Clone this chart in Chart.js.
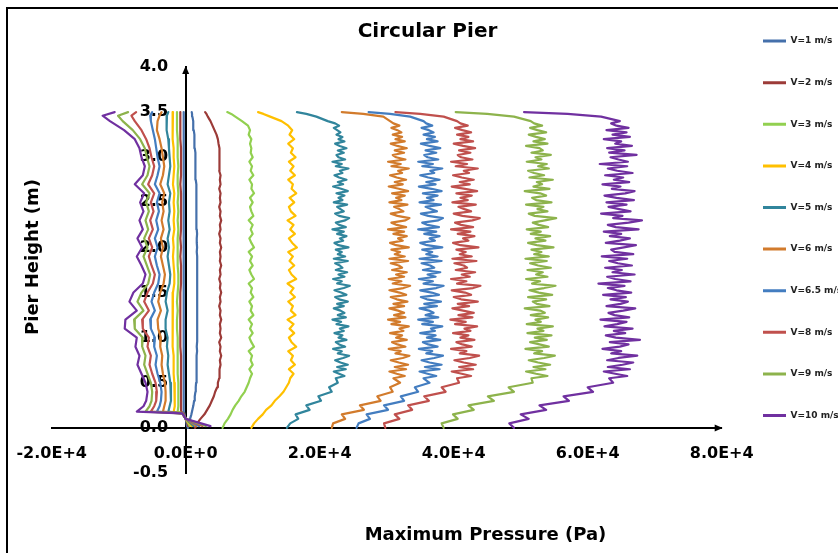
<!DOCTYPE html>
<html>
<head>
<meta charset="utf-8">
<script src="https://cdn.jsdelivr.net/npm/chart.js@4.4.1/dist/chart.umd.min.js"></script>
<style>
  html, body { margin: 0; padding: 0; background: #fff; }
  body { width: 838px; height: 553px; overflow: hidden; position: relative; }
  .frame { position: absolute; left: 6px; top: 7px; width: 900px; height: 600px; border: 2px solid #000; box-sizing: border-box; }
  canvas { position: absolute; left: 0; top: 0; }
</style>
</head>
<body>
<div class="frame"></div>
<canvas id="chart" width="838" height="553"></canvas>
<script>
// Pier height (m) sampling for the smoother maximum-pressure profiles (V=1..4 m/s)
const peakHeights = [0.00,0.05,0.10,0.15,0.20,0.25,0.30,0.35,0.40,0.45,0.50,
  0.55,0.60,0.65,0.70,0.75,0.80,0.85,0.90,0.95,1.00,1.05,1.10,1.15,1.20,1.25,1.30,1.35,1.40,1.45,1.50,
  1.55,1.60,1.65,1.70,1.75,1.80,1.85,1.90,1.95,2.00,2.05,2.10,2.15,2.20,2.25,2.30,2.35,2.40,2.45,2.50,
  2.55,2.60,2.65,2.70,2.75,2.80,2.85,2.90,2.95,3.00,3.05,3.10,3.15,3.20,3.25,3.30,3.35,3.40,
  3.45,3.48,3.50];

// Pier height (m) sampling for the fluctuating maximum-pressure profiles (V=5..10 m/s)
const peakHeightsFine = [0.00,0.05,0.10,0.15,0.20,0.25,0.30,0.35,0.40,0.45,0.50,
  0.55,0.575,0.60,0.625,0.65,0.675,0.70,0.725,0.75,0.775,
  0.80,0.825,0.85,0.875,0.90,0.925,0.95,0.975,1.00,1.025,
  1.05,1.075,1.10,1.125,1.15,1.175,1.20,1.225,1.25,1.275,
  1.30,1.325,1.35,1.375,1.40,1.425,1.45,1.475,1.50,1.525,
  1.55,1.575,1.60,1.625,1.65,1.675,1.70,1.725,1.75,1.775,
  1.80,1.825,1.85,1.875,1.90,1.925,1.95,1.975,2.00,2.025,
  2.05,2.075,2.10,2.125,2.15,2.175,2.20,2.225,2.25,2.275,
  2.30,2.325,2.35,2.375,2.40,2.425,2.45,2.475,2.50,2.525,
  2.55,2.575,2.60,2.625,2.65,2.675,2.70,2.725,2.75,2.775,
  2.80,2.825,2.85,2.875,2.90,2.925,2.95,2.975,3.00,3.025,
  3.05,3.075,3.10,3.125,3.15,3.175,3.20,3.225,3.25,3.275,
  3.30,3.325,3.35,3.375,3.40,
  3.45,3.48,3.50];

// Pier height (m) for the negative-pressure profiles (listed top to bottom)
const lowHeights = [3.50,3.46,3.40,3.30,3.20,3.10,3.00,2.90,2.80,2.70,2.60,2.50,2.40,2.30,2.20,2.10,
  2.00,1.90,1.80,1.70,1.60,1.50,1.40,1.30,1.20,1.10,1.00,0.90,0.80,0.70,0.60,0.50,0.40,0.30,
  0.24,0.18,0.16,0.10,0.02];

const velocityLabels = ['V=1 m/s','V=2 m/s','V=3 m/s','V=4 m/s','V=5 m/s','V=6 m/s','V=6.5 m/s','V=8 m/s','V=9 m/s','V=10 m/s'];

// Maximum pressure along the pier, kPa
const peakV1 = [0.3,0.45,0.65,0.85,1.0,1.15,1.25,1.35,1.45,1.5,1.55,
  1.6,1.6,1.65,1.6,1.65,1.65,1.7,1.65,1.7,1.7, 1.7,1.7,1.75,1.7,1.7,1.75,1.7,1.75,1.7,1.7,
  1.75,1.7,1.7,1.75,1.7,1.7,1.7,1.7,1.65,1.7, 1.65,1.65,1.7,1.65,1.65,1.6,1.65,1.6,1.6,1.6,
  1.55,1.6,1.55,1.55,1.5,1.5,1.5,1.45,1.45,1.4, 1.4,1.35,1.35,1.3,1.25,1.2,1.15,1.1,
  1.0,0.95,0.9];
const peakV2 = [1.4,1.7,2.2,2.8,3.2,3.6,3.9,4.2,4.4,4.7,4.8,
  5.0,5.1,5.0,5.2,5.1,5.3,5.1,5.2,5.0,5.3, 5.1,5.2,5.1,5.3,5.1,5.2,5.0,5.2,5.1,5.3,
  5.1,5.2,5.0,5.2,5.1,5.3,5.1,5.2,5.1,5.3, 5.1,5.2,5.0,5.2,5.1,5.3,5.1,5.2,5.0,5.2,
  5.1,5.2,5.0,5.2,5.1,5.2,5.0,5.1,5.0,5.1, 5.0,5.0,4.9,4.8,4.6,4.3,4.0,3.7,
  3.3,3.1,2.9];
const peakV3 = [5.5,5.8,6.3,6.7,7.0,7.4,7.9,8.3,8.8,9.1,9.4,
  9.6,9.9,9.5,10.0,9.7,9.9,9.4,10.2,9.8,9.5, 10.0,9.6,9.9,9.4,10.1,9.7,9.9,9.5,10.1,9.7,
  9.9,9.4,10.2,9.8,9.5,10.0,9.6,9.9,9.4,10.2, 9.8,9.5,10.0,9.7,10.0,9.4,10.1,9.8,9.6,10.0,
  9.6,10.2,9.8,9.9,9.5,10.1,9.7,9.9,9.5,10.0, 9.7,9.8,9.6,9.8,9.4,9.6,9.3,8.4,
  7.4,6.8,6.2];
const peakV4 = [9.8,10.2,10.8,11.5,12.0,12.8,13.3,14.0,14.6,15.0,15.4,
  15.6,16.1,15.4,16.3,15.7,16.0,15.3,16.5,15.8,15.4, 16.2,15.5,16.1,15.2,16.4,15.7,16.0,15.3,16.3,15.6,
  16.1,15.2,16.5,15.8,15.4,16.2,15.5,16.0,15.3,16.6, 15.9,15.4,16.3,15.6,16.1,15.2,16.4,15.7,15.4,16.2,
  15.5,16.5,15.8,16.0,15.3,16.3,15.6,16.1,15.4,16.4, 15.7,16.0,15.3,16.2,15.5,15.9,15.3,14.3,
  12.6,11.6,10.8];
const peakV5 = [15.1,15.6,16.8,16.4,18.5,18.0,20.2,19.8,21.8,21.4,22.7,
  22.4,23.7,22.9,22.1,23.9,22.6,24.2,23.1,22.3,23.5,
  24.4,22.7,23.3,22.0,23.8,22.9,22.4,24.0,22.8,23.4,
  22.2,23.6,23.0,24.3,22.5,23.2,21.9,23.9,22.7,23.7,
  23.1,22.1,23.6,22.6,24.2,22.9,22.3,24.0,23.2,22.2,
  23.6,24.5,22.6,23.3,22.0,23.7,22.8,24.1,22.4,23.4,
  23.0,22.3,24.2,22.1,23.8,22.7,23.3,22.4,24.3,22.8,
  22.2,23.5,23.0,24.0,22.6,23.6,21.9,23.9,22.9,22.4,
  23.8,24.4,22.9,22.3,23.6,23.1,22.6,24.1,22.1,23.4,
  22.8,23.7,22.5,24.2,23.2,22.0,23.5,22.7,24.0,22.9,
  22.2,23.4,23.0,24.3,22.4,23.3,21.9,23.8,22.8,22.5,
  23.6,22.7,24.0,23.0,22.3,23.7,22.8,23.4,22.5,23.1,
  22.6,22.1,22.9,22.3,21.2,
  19.5,18.0,16.6];
const peakV6 = [21.8,22.0,23.8,23.3,26.6,26.0,29.1,28.6,30.9,30.5,32.0,
  31.0,32.7,31.5,30.4,32.9,31.2,33.2,31.8,30.6,32.4,
  33.4,31.3,32.1,30.3,32.8,31.6,30.8,33.0,31.4,32.3,
  30.5,32.5,31.9,33.3,30.7,32.0,30.2,32.8,31.1,32.6,
  31.7,30.4,32.6,31.0,33.1,31.5,30.6,32.9,31.9,30.4,
  32.5,33.5,30.9,32.2,30.3,32.6,31.4,33.0,30.8,32.3,
  31.8,30.6,33.2,30.4,32.7,31.2,32.0,30.7,33.3,31.4,
  30.5,32.4,31.7,33.0,31.0,32.6,30.2,32.9,31.5,30.7,
  32.8,33.4,31.6,30.6,32.5,31.9,31.1,33.1,30.4,32.2,
  31.4,32.7,30.8,33.2,31.8,30.3,32.4,31.2,32.9,31.5,
  30.5,32.3,31.7,33.3,30.7,32.1,30.2,32.8,31.4,30.9,
  32.6,31.2,33.0,31.6,30.6,32.7,31.3,32.3,30.9,32.2,
  31.6,30.7,31.9,31.0,30.5,
  29.5,26.5,23.3];
const peakV65 = [25.5,25.8,27.5,27.0,30.2,29.6,32.6,32.1,34.7,34.2,36.4,
  35.5,37.4,36.1,34.9,37.9,35.7,38.2,36.4,35.2,37.1,
  38.4,35.9,36.8,34.8,37.6,36.2,35.4,38.0,36.0,37.3,
  35.0,37.2,36.6,38.3,35.3,36.9,34.7,37.7,35.8,37.0,
  36.3,34.9,37.5,35.6,38.1,36.0,35.1,37.8,36.7,35.0,
  37.4,38.5,35.5,36.9,34.8,37.3,36.1,38.0,35.4,37.1,
  36.5,35.2,38.2,34.9,37.6,35.9,36.8,35.3,38.3,36.0,
  35.0,37.2,36.4,37.9,35.6,37.4,34.7,37.8,36.1,35.3,
  37.7,38.4,36.2,35.1,37.5,36.6,35.8,38.1,34.9,37.0,
  36.0,37.6,35.4,38.2,36.7,34.8,37.3,35.9,37.9,36.2,
  35.0,37.1,36.5,38.3,35.3,36.9,34.7,37.7,36.1,35.6,
  37.4,35.8,38.0,36.4,35.1,37.6,36.0,37.2,35.5,37.0,
  36.3,35.2,36.8,35.9,35.5,
  33.5,30.5,27.3];
const peakV8 = [29.8,29.6,31.9,31.2,33.8,33.2,36.3,35.6,38.8,38.2,40.8,
  40.5,42.6,41.2,39.7,42.9,40.8,43.3,41.5,40.1,42.4,
  43.8,40.9,41.9,39.6,42.7,41.3,40.4,43.1,41.0,42.2,
  39.9,42.5,41.6,43.5,40.2,41.8,39.5,42.8,40.7,43.0,
  41.4,39.8,42.3,40.6,43.6,41.1,40.0,42.6,41.7,39.7,
  42.9,44.0,40.5,41.9,39.6,42.4,41.2,43.2,40.3,42.0,
  41.5,40.1,43.4,39.8,42.7,40.9,41.8,40.4,43.7,41.0,
  39.9,42.2,41.4,43.1,40.6,42.5,39.6,42.9,41.1,40.2,
  42.8,43.9,41.3,40.0,42.6,41.6,40.7,43.3,39.8,42.1,
  41.0,42.7,40.4,43.5,41.7,39.7,42.4,40.9,43.0,41.2,
  39.9,42.3,41.5,43.6,40.3,42.0,39.6,42.8,41.1,40.6,
  42.5,40.8,43.2,41.4,40.0,42.9,41.0,42.2,40.5,42.6,
  41.3,40.2,42.1,41.0,40.5,
  38.5,35.0,31.3];
const peakV9 = [38.5,38.2,40.6,39.9,43.0,42.2,46.0,45.1,49.0,48.2,51.8,
  51.6,54.0,52.3,50.8,53.7,51.9,54.4,52.6,51.2,53.5,
  55.1,52.0,53.2,50.7,54.2,52.8,51.4,53.9,52.1,54.6,
  51.0,53.4,52.5,54.8,50.9,53.0,52.2,54.1,51.5,53.6,
  52.9,50.6,54.3,52.4,51.8,53.8,51.1,54.7,52.7,51.3,
  53.5,55.2,51.7,52.9,50.8,54.0,52.3,53.3,51.0,54.5,
  52.6,51.4,53.9,50.7,54.2,52.0,53.1,51.6,54.9,52.4,
  51.1,53.7,52.2,54.4,51.5,53.0,50.9,54.1,52.7,51.8,
  53.6,55.3,52.1,51.2,54.0,52.5,53.4,50.8,54.6,52.3,
  51.7,53.8,52.9,50.6,54.3,51.9,53.2,52.4,54.8,51.3,
  53.5,52.0,51.1,54.2,52.6,53.9,50.9,53.1,52.2,54.5,
  51.6,53.3,52.8,50.8,54.0,51.9,53.6,52.3,51.2,53.8,
  52.5,51.4,53.2,52.0,51.5,
  49.0,45.0,40.3];
const peakV10 = [49.0,48.3,51.2,50.0,53.8,52.8,57.2,56.4,60.8,60.0,63.8,
  63.2,65.9,64.1,62.4,66.3,63.0,65.2,66.8,62.9,64.6,
  67.4,63.5,65.0,62.2,64.8,66.1,63.3,67.8,64.2,62.7,
  65.6,63.9,66.7,62.5,64.4,65.8,61.9,66.2,64.0,63.1,
  65.3,67.1,62.8,64.9,66.0,63.4,65.7,62.3,66.5,64.3,
  63.0,65.5,61.6,66.4,64.1,62.9,67.0,63.7,65.1,62.6,
  66.6,64.5,63.2,65.9,62.1,66.8,64.0,63.5,65.4,67.2,
  62.7,64.8,66.3,63.3,65.0,62.4,67.6,64.2,63.0,66.1,
  68.1,63.8,65.2,62.0,66.4,64.7,63.1,65.8,62.8,66.9,
  64.3,62.5,65.6,67.0,63.6,64.9,62.2,66.2,63.9,65.3,
  62.6,66.7,64.4,63.0,65.9,61.8,66.0,64.6,63.4,67.3,
  63.2,65.5,62.9,66.6,64.1,65.0,62.4,66.3,63.7,65.8,
  62.8,66.1,64.3,63.5,64.8,
  62.0,57.0,50.5];

// Negative pressure along the pier, kPa
const lowV1 = [-0.3,-0.3,-0.3, -0.3,-0.3,-0.3,-0.3,-0.3,-0.3,-0.3,-0.3,-0.3,-0.3,
  -0.3,-0.3,-0.3,-0.3,-0.3,-0.3,-0.3,-0.3,-0.3,-0.3, -0.3,-0.3,-0.3,-0.3,-0.3,-0.3,-0.3,-0.3,-0.3,-0.3,
  -0.3, -0.3,-0.3,-0.2,0.0,0.2];
const lowV2 = [-0.8,-0.8,-0.8, -0.8,-0.8,-0.7,-0.7,-0.7,-0.7,-0.8,-0.7,-0.7,-0.7,
  -0.7,-0.7,-0.8,-0.7,-0.8,-0.7,-0.7,-0.7,-0.8,-0.8, -0.8,-0.8,-0.8,-0.8,-0.8,-0.7,-0.7,-0.7,-0.7,-0.7,
  -0.7, -0.7,-0.7,-0.3,0.0,0.4];
const lowV3 = [-1.3,-1.3,-1.3, -1.3,-1.2,-1.2,-1.2,-1.1,-1.2,-1.2,-1.1,-1.2,-1.1,
  -1.2,-1.1,-1.2,-1.2,-1.2,-1.2,-1.1,-1.1,-1.2,-1.3, -1.2,-1.3,-1.3,-1.2,-1.2,-1.2,-1.2,-1.2,-1.1,-1.1,
  -1.1, -1.1,-1.2,-0.4,0.0,0.6];
const lowV4 = [-1.9,-2.0,-2.0, -1.9,-1.9,-1.8,-1.8,-1.7,-1.8,-1.9,-1.7,-1.8,-1.7,
  -1.8,-1.7,-1.9,-1.8,-1.9,-1.8,-1.7,-1.7,-1.9,-2.0, -1.9,-2.0,-2.0,-1.9,-1.9,-1.8,-1.8,-1.8,-1.7,-1.6,
  -1.6, -1.7,-1.8,-0.5,0.0,0.9];
const lowV5 = [-2.6,-2.8,-2.9, -2.8,-2.6,-2.5,-2.4,-2.3,-2.5,-2.7,-2.3,-2.5,-2.4,
  -2.6,-2.4,-2.7,-2.5,-2.7,-2.5,-2.3,-2.4,-2.8,-3.0, -2.7,-3.0,-3.0,-2.7,-2.8,-2.6,-2.7,-2.5,-2.3,-2.2,
  -2.2, -2.4,-2.6,-0.5,0.0,1.2];
const lowV6 = [-3.6,-3.9,-4.2, -4.3,-3.9,-3.6,-3.4,-3.2,-3.4,-3.8,-3.2,-3.5,-3.3,
  -3.6,-3.3,-3.7,-3.4,-3.7,-3.4,-3.1,-3.3,-3.8,-4.1, -3.7,-4.2,-4.1,-3.7,-3.8,-3.5,-3.6,-3.4,-3.1,-3.0,
  -3.0, -3.2,-3.4,-0.5,0.0,1.6];
const lowV65 = [-5.0,-5.3,-5.2, -4.9,-4.6,-4.4,-4.2,-3.9,-4.2,-4.6,-3.9,-4.3,-4.0,
  -4.4,-4.1,-4.6,-4.2,-4.6,-4.3,-3.9,-4.1,-4.7,-5.1, -4.6,-5.3,-5.2,-4.6,-4.7,-4.3,-4.5,-4.2,-3.8,-3.6,
  -3.7, -3.9,-4.3,-0.5,0.0,2.0];
const lowV8 = [-7.4,-8.1,-7.6, -6.6,-5.9,-5.4,-5.1,-4.7,-5.0,-5.6,-4.7,-5.2,-4.8,
  -5.3,-4.9,-5.5,-5.0,-5.5,-5.1,-4.6,-4.9,-5.7,-6.2, -5.5,-6.5,-6.4,-5.5,-5.7,-5.2,-5.4,-5.0,-4.5,-4.3,
  -4.4, -4.7,-5.2,-0.5,0.0,2.5];
const lowV9 = [-8.6,-10.1,-9.4, -7.9,-6.8,-6.1,-5.8,-5.4,-5.7,-6.5,-5.4,-5.9,-5.5,
  -6.0,-5.6,-6.2,-5.7,-6.3,-5.8,-5.3,-5.6,-6.6,-7.2, -6.3,-7.7,-7.6,-6.4,-6.5,-6.0,-6.2,-5.7,-5.2,-5.0,
  -5.1, -5.4,-6.0,-0.5,0.0,3.0];
const lowV10 = [-10.6,-12.4,-11.3, -9.2,-7.6,-6.9,-6.6,-6.1,-6.4,-7.6,-6.2,-6.8,-6.3,
  -6.9,-6.4,-7.2,-6.5,-7.3,-6.6,-6.0,-6.4,-7.8,-8.4, -7.3,-9.0,-9.1,-7.3,-7.5,-6.9,-7.2,-6.6,-6.0,-5.7,
  -5.9, -6.3,-7.3,-0.5,0.0,3.7];

const peakSide = [peakV1, peakV2, peakV3, peakV4, peakV5, peakV6, peakV65, peakV8, peakV9, peakV10];
const peakGrid = [peakHeights, peakHeights, peakHeights, peakHeights,
                  peakHeightsFine, peakHeightsFine, peakHeightsFine, peakHeightsFine, peakHeightsFine, peakHeightsFine];
const lowSide = [lowV1, lowV2, lowV3, lowV4, lowV5, lowV6, lowV65, lowV8, lowV9, lowV10];

const xTickLabels = ['-2.0E+4', '0.0E+0', '2.0E+4', '4.0E+4', '6.0E+4', '8.0E+4'];
const yTickLabels = ['-0.5', '0.0', '0.5', '1.0', '1.5', '2.0', '2.5', '3.0', '3.5', '4.0'];

const lineColors = ['#4570AB', '#9C3B38', '#92D050', '#FFC000', '#31859C',
                    '#D27B2C', '#437DC0', '#C0504D', '#8DB34C', '#7030A0'];

const toPoints = (kPa, heights) => kPa.map((p, i) => ({ x: p * 1000, y: heights[i] }));

const datasets = [];
velocityLabels.forEach((label, i) => {
  datasets.push({ label, data: toPoints(peakSide[i], peakGrid[i]),
    borderColor: lineColors[i], backgroundColor: lineColors[i], order: velocityLabels.length - i });
});
velocityLabels.forEach((label, i) => {
  datasets.push({ label, lowSide: true, data: toPoints(lowSide[i], lowHeights),
    borderColor: lineColors[i], backgroundColor: lineColors[i], order: velocityLabels.length - i });
});

Chart.defaults.font.family = "'DejaVu Sans', Verdana, sans-serif";
Chart.defaults.color = '#000';

const boldFont = (size) => ({ family: "'DejaVu Sans', Verdana, sans-serif", size, weight: 'bold' });
const hidden = { ticks: { display: false }, grid: { display: false }, border: { display: false } };

// Arrowheads at the positive ends of both axes
const axisArrows = {
  id: 'axisArrows',
  afterDraw(chart) {
    const { ctx, scales: { x, y } } = chart;
    const x0 = x.getPixelForValue(0), y0 = y.getPixelForValue(0);
    const xe = x.getPixelForValue(x.max), ye = y.getPixelForValue(y.max);
    ctx.save();
    ctx.fillStyle = '#000';
    ctx.beginPath();
    ctx.moveTo(xe + 1, y0); ctx.lineTo(xe - 7, y0 - 3.5); ctx.lineTo(xe - 7, y0 + 3.5);
    ctx.closePath(); ctx.fill();
    ctx.beginPath();
    ctx.moveTo(x0, ye - 1); ctx.lineTo(x0 - 3.5, ye + 7); ctx.lineTo(x0 + 3.5, ye + 7);
    ctx.closePath(); ctx.fill();
    ctx.restore();
  }
};

new Chart(document.getElementById('chart'), {
  type: 'scatter',
  data: { datasets },
  plugins: [axisArrows],
  options: {
    responsive: false,
    animation: false,
    devicePixelRatio: 1,
    layout: { padding: { left: 6.6, right: -10.4, top: 4, bottom: 0 } },
    datasets: {
      scatter: { showLine: true, pointRadius: 0, pointHoverRadius: 0, borderWidth: 2.2,
                 borderJoinStyle: 'round', borderCapStyle: 'round', fill: false, tension: 0 }
    },
    plugins: {
      tooltip: { enabled: false },
      title: {
        display: true, text: 'Circular Pier', color: '#000',
        font: boldFont(20), padding: { top: 16, bottom: 23 }
      },
      legend: {
        position: 'right', align: 'start', maxWidth: 118,
        labels: {
          font: boldFont(9), color: '#222',
          boxWidth: 23, boxHeight: 3, padding: 32.6,
          filter: (item, data) => !data.datasets[item.datasetIndex].lowSide,
          sort: (a, b) => a.datasetIndex - b.datasetIndex,
          generateLabels(chart) {
            const items = Chart.defaults.plugins.legend.labels.generateLabels(chart);
            return items.map(it => Object.assign(it, { fillStyle: it.strokeStyle, lineWidth: 0 }));
          }
        }
      }
    },
    scales: {
      x: {
        type: 'linear', position: { y: 0 }, min: -20000, max: 80000, z: 1,
        grid: { display: false },
        border: { display: true, color: '#000', width: 2 },
        ticks: { stepSize: 20000, autoSkip: false, maxRotation: 0, padding: 8.5,
                 font: boldFont(16), color: '#000', callback: (v, i) => xTickLabels[i] }
      },
      y: {
        type: 'linear', position: { x: 0 }, min: -0.5, max: 4.0, z: 1,
        grid: { display: false },
        border: { display: true, color: '#000', width: 2 },
        ticks: { display: false, stepSize: 0.5 }
      },
      // height labels, set a little to the left of the vertical axis line
      yLabels: {
        type: 'linear', axis: 'y', position: { x: -2640 }, min: -0.5, max: 4.0, z: 1,
        grid: { display: false },
        border: { display: false },
        ticks: { stepSize: 0.5, autoSkip: false,
                 font: boldFont(16), color: '#000', callback: (v, i) => yTickLabels[i] }
      },
      ySpacer: {
        type: 'linear', axis: 'y', position: 'left', stack: 'left', stackWeight: 26, weight: 1,
        display: true, ...hidden,
        afterFit: (s) => { s.width = 45.1; }
      },
      yTitle: {
        type: 'linear', axis: 'y', position: 'left', stack: 'left', stackWeight: 380, weight: 2,
        display: true, ...hidden,
        title: { display: true, text: 'Pier Height (m)', color: '#000', font: boldFont(18),
                 padding: { top: 15.6, bottom: 0 } },
        afterFit: (s) => { s.width = 45.1; }
      },
      xSpacer: {
        type: 'linear', axis: 'x', position: 'bottom', stack: 'bottom', stackWeight: 197.6, weight: 1,
        display: true, ...hidden,
        afterFit: (s) => { s.height = 80; }
      },
      xTitle: {
        type: 'linear', axis: 'x', position: 'bottom', stack: 'bottom', stackWeight: 472.4, weight: 2,
        display: true, ...hidden,
        title: { display: true, text: 'Maximum Pressure (Pa)', color: '#000', font: boldFont(18),
                 padding: { top: 0, bottom: 6.7 } },
        afterFit: (s) => { s.height = 80; }
      },
      rightGap: {
        type: 'linear', axis: 'y', position: 'right', display: true, ...hidden,
        afterFit: (s) => { s.width = 8.7; }
      }
    }
  }
});
</script>
</body>
</html>
